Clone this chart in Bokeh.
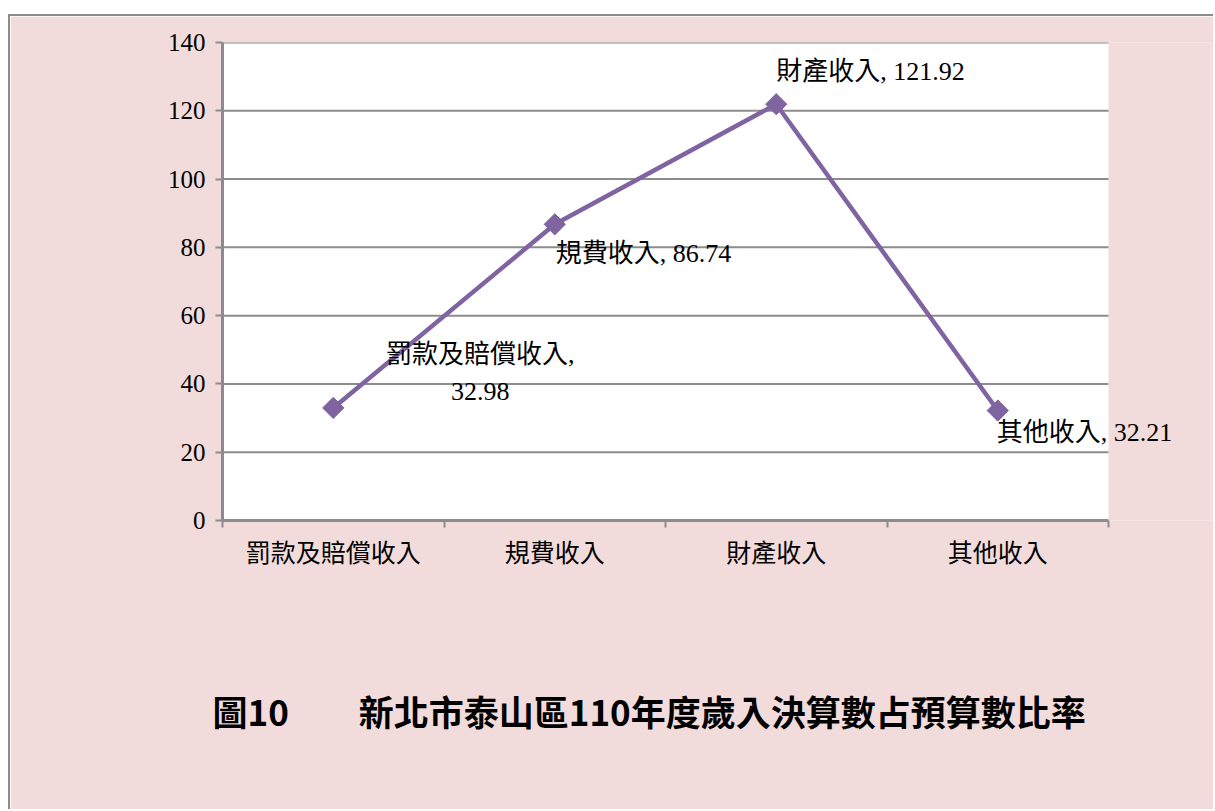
from bokeh.plotting import figure
from bokeh.models import Range1d, FixedTicker, Label, Title, BoxAnnotation
from bokeh.embed import file_html
from bokeh.resources import INLINE
import numpy as np

categories = ["罰款及賠償收入", "規費收入", "財產收入", "其他收入"]
values = [32.98, 86.74, 121.92, 32.21]
y_ticks = [0, 20, 40, 60, 80, 100, 120, 140]
title_text = "圖10　　新北市泰山區110年度歲入決算數占預算數比率"

n = len(categories)
xs = [i + 0.5 for i in range(n)]

PINK = "#F2DCDB"
GRAY = "#8C8C8C"
PURPLE = "#8064A2"
SERIF = "'Liberation Serif', 'Noto Sans CJK TC'"

# frame extends to the right of the white plot area so data labels may overflow
PLOT_W = 886
FRAME_W = 988
x_end = n * FRAME_W / PLOT_W

p = figure(width=1205, height=795, output_backend="svg", toolbar_location=None,
           x_range=Range1d(0, x_end), y_range=Range1d(0, y_ticks[-1]),
           min_border_left=212, min_border_right=5, min_border_top=26, min_border_bottom=291)
p.styles = {"margin-left": "8px", "margin-top": "14px",
            "border-left": "2px solid #8C8C8C", "border-top": "2px solid #8C8C8C"}
p.border_fill_color = PINK
p.background_fill_color = PINK
p.outline_line_color = None

# white plot area over the category span only
p.add_layout(BoxAnnotation(left=0, right=n, bottom=y_ticks[0], top=y_ticks[-1],
                           fill_color="white", fill_alpha=1, line_color=None, level="underlay"))

p.xgrid.visible = False
p.ygrid.visible = False
p.segment(x0=[0] * (len(y_ticks) - 1), x1=[n] * (len(y_ticks) - 1),
          y0=y_ticks[1:], y1=y_ticks[1:], line_color=GRAY, line_width=2)

# x axis: labels at category centres, tick marks at category boundaries
xa = p.xaxis[0]
xa.bounds = (0, n)
xa.ticker = FixedTicker(ticks=xs, minor_ticks=list(range(n + 1)))
xa.major_label_overrides = {x: c for x, c in zip(xs, categories)}
xa.major_tick_out = 0
xa.major_tick_in = 0
xa.minor_tick_out = 7
xa.minor_tick_in = 0
xa.minor_tick_line_color = GRAY
xa.minor_tick_line_width = 2
xa.axis_line_color = GRAY
xa.axis_line_width = 3
xa.major_label_standoff = 12
xa.major_label_text_font = SERIF
xa.major_label_text_font_size = "25px"
xa.major_label_text_color = "black"

ya = p.yaxis[0]
ya.ticker = FixedTicker(ticks=y_ticks)
ya.minor_tick_out = 0
ya.minor_tick_in = 0
ya.major_tick_out = 7
ya.major_tick_in = 0
ya.major_tick_line_color = GRAY
ya.major_tick_line_width = 2
ya.axis_line_color = GRAY
ya.axis_line_width = 3
ya.major_label_standoff = 10
ya.major_label_text_font = SERIF
ya.major_label_text_font_size = "25px"
ya.major_label_text_color = "black"

p.line(xs, values, line_color=PURPLE, line_width=4.5)
p.scatter(xs, values, marker="square", angle=np.pi / 4, size=15,
          fill_color=PURPLE, line_color=PURPLE)

# data labels
placement = [
    dict(x_offset=147, y_offset=35, text_align="center"),
    dict(x_offset=1, y_offset=-29, text_align="left"),
    dict(x_offset=0, y_offset=33, text_align="left"),
    dict(x_offset=-1, y_offset=-22, text_align="left"),
]
for i, (x, v, c) in enumerate(zip(xs, values, categories)):
    txt = f"{c},\n{v:.2f}" if i == 0 else f"{c}, {v:.2f}"
    p.add_layout(Label(x=x, y=v, text=txt, text_font=SERIF, text_font_size="26px",
                       text_color="black", text_baseline="middle", text_line_height=1.3,
                       **placement[i]))

# vertical spacer between the category labels and the caption
p.add_layout(Title(text=" ", text_font_size="10px", standoff=100), "below")
p.add_layout(Title(text=title_text, text_font="'Noto Sans CJK TC'", text_font_size="35px",
                   text_font_style="bold", text_color="black", align="left", offset=-10,
                   standoff=0, vertical_align="bottom"), "below")

open("out.html", "w").write(file_html(p, INLINE))
